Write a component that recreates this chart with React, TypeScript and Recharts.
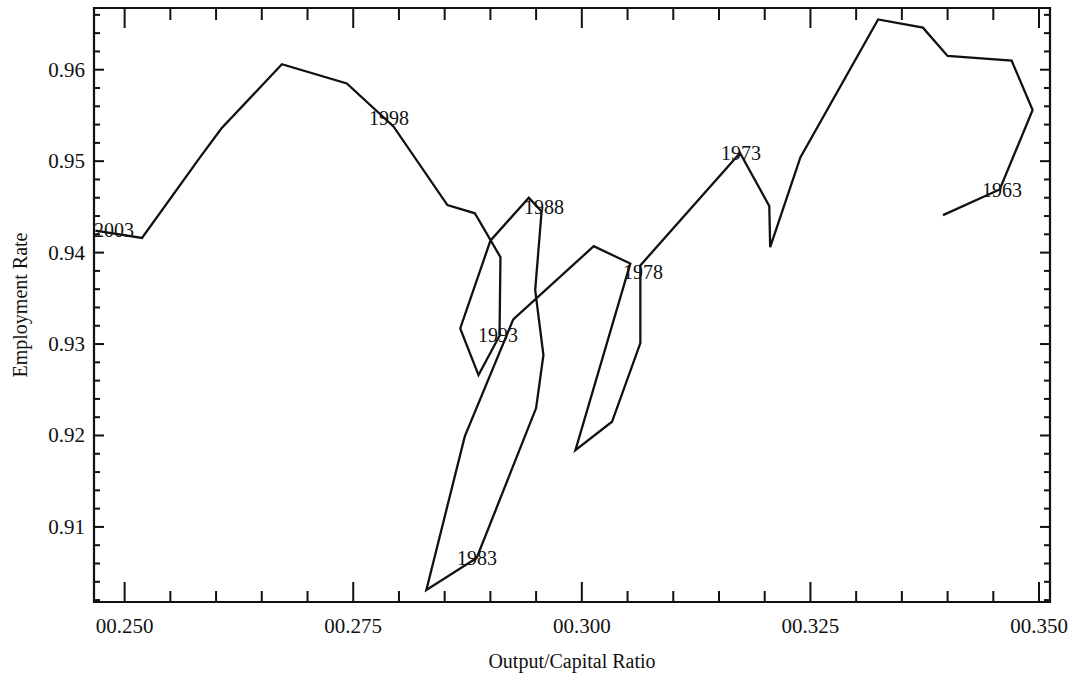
import { ReferenceArea, Scatter, ScatterChart, XAxis, YAxis } from "recharts";

// path (1962 -> 2004)
const ratio = [
  0.3395, 0.3457, 0.3493, 0.347, 0.34, 0.3373, 0.3324, 0.3239, 0.3206, 0.3205,
  0.3173, 0.3064, 0.3064, 0.3033, 0.2993, 0.3053, 0.3013, 0.2925, 0.2872, 0.283,
  0.2885, 0.295, 0.2958, 0.2949, 0.2956, 0.2942, 0.29, 0.2867, 0.2887, 0.291,
  0.2911, 0.2883, 0.2853, 0.2794, 0.2743, 0.2672, 0.2606, 0.2583, 0.2519, 0.2468,
];
const employment = [
  0.9441, 0.9469, 0.9556, 0.961, 0.9615, 0.9646, 0.9655, 0.9504, 0.9406, 0.9451,
  0.9509, 0.9386, 0.9301, 0.9215, 0.9184, 0.9388, 0.9407, 0.9327, 0.9199, 0.9031,
  0.9066, 0.923, 0.9288, 0.9359, 0.9445, 0.946, 0.9413, 0.9317, 0.9266, 0.9309,
  0.9395, 0.9443, 0.9452, 0.9538, 0.9585, 0.9606, 0.9536, 0.9505, 0.9416, 0.9424,
];

// year labels and where they sit
const labelYears = ["1963", "1973", "1978", "1983", "1988", "1993", "1998", "2003"];
const labelRatio = [0.34595, 0.31741, 0.30669, 0.28853, 0.29587, 0.29084, 0.27892, 0.24884];
const labelEmployment = [0.94687, 0.95092, 0.9379, 0.90661, 0.94501, 0.93101, 0.95475, 0.94249];

const xTicks = [
  0.25, 0.255, 0.26, 0.265, 0.27, 0.275, 0.28, 0.285, 0.29, 0.295, 0.3, 0.305,
  0.31, 0.315, 0.32, 0.325, 0.33, 0.335, 0.34, 0.345, 0.35,
];
const xMajor = [0.25, 0.275, 0.3, 0.325, 0.35];
const xMajorLabels = ["00.250", "00.275", "00.300", "00.325", "00.350"];

const yTicks = [
  0.902, 0.904, 0.906, 0.908, 0.91, 0.912, 0.914, 0.916, 0.918, 0.92, 0.922,
  0.924, 0.926, 0.928, 0.93, 0.932, 0.934, 0.936, 0.938, 0.94, 0.942, 0.944,
  0.946, 0.948, 0.95, 0.952, 0.954, 0.956, 0.958, 0.96, 0.962, 0.964, 0.966,
];
const yMajor = [0.91, 0.92, 0.93, 0.94, 0.95, 0.96];
const yMajorLabels = ["0.91", "0.92", "0.93", "0.94", "0.95", "0.96"];

const X_DOMAIN: [number, number] = [0.24665, 0.3512];
const Y_DOMAIN: [number, number] = [0.90179, 0.96675];

const W = 1075;
const H = 676;
const PLOT_LEFT = 94;
const PLOT_RIGHT = 1050;
const PLOT_TOP = 8;
const PLOT_BOTTOM = 602;
const INK = "#111";
const FONT = '"Liberation Serif", "DejaVu Serif", serif';

const majorIndex = (list: number[], v: number) =>
  list.findIndex((m) => Math.abs(m - v) < 1e-9);

function XTick({ x, payload }: any) {
  const i = majorIndex(xMajor, payload.value);
  const major = i >= 0;
  return (
    <g>
      <line x1={x} x2={x} y1={PLOT_BOTTOM} y2={PLOT_BOTTOM - (major ? 20 : 11)} stroke={INK} strokeWidth={2} />
      <line x1={x} x2={x} y1={PLOT_TOP} y2={PLOT_TOP + (major ? 20 : 12)} stroke={INK} strokeWidth={2} />
      {major && (
        <text x={x} y={PLOT_BOTTOM + 31} textAnchor="middle" fontFamily={FONT} fontSize={21} fill={INK}>
          {xMajorLabels[i]}
        </text>
      )}
    </g>
  );
}

function YTick({ y, payload }: any) {
  const i = majorIndex(yMajor, payload.value);
  const major = i >= 0;
  return (
    <g>
      <line x1={PLOT_LEFT} x2={PLOT_LEFT + (major ? 10 : 6)} y1={y} y2={y} stroke={INK} strokeWidth={2} />
      <line x1={PLOT_RIGHT} x2={PLOT_RIGHT - (major ? 10 : 6)} y1={y} y2={y} stroke={INK} strokeWidth={2} />
      {major && (
        <text x={PLOT_LEFT - 9} y={y + 7} textAnchor="end" fontFamily={FONT} fontSize={21} fill={INK}>
          {yMajorLabels[i]}
        </text>
      )}
    </g>
  );
}

const YearLabel = (p: any) => (
  <text x={p.cx} y={p.cy} dy="0.35em" textAnchor="middle" fontFamily={FONT} fontSize={20} fill={INK}>
    {p.payload.year}
  </text>
);

export default function App() {
  const path = ratio.map((r, i) => ({ ratio: r, employment: employment[i] }));
  const labels = labelYears.map((year, i) => ({
    ratio: labelRatio[i],
    employment: labelEmployment[i],
    year,
  }));

  return (
    <div style={{ position: "absolute", left: 0, top: 0, width: W, height: H, background: "#fff" }}>
      <ScatterChart
        width={W}
        height={H}
        margin={{ top: PLOT_TOP, right: W - PLOT_RIGHT, bottom: 0, left: 0 }}
      >
        <XAxis
          type="number"
          dataKey="ratio"
          domain={X_DOMAIN}
          allowDataOverflow
          ticks={xTicks}
          interval={0}
          tick={<XTick />}
          tickSize={0}
          tickMargin={0}
          tickLine={false}
          axisLine={false}
          height={H - PLOT_BOTTOM}
        />
        <YAxis
          type="number"
          dataKey="employment"
          domain={Y_DOMAIN}
          allowDataOverflow
          ticks={yTicks}
          interval={0}
          tick={<YTick />}
          tickSize={0}
          tickMargin={0}
          tickLine={false}
          axisLine={false}
          width={PLOT_LEFT}
        />
        <ReferenceArea
          x1={X_DOMAIN[0]}
          x2={X_DOMAIN[1]}
          y1={Y_DOMAIN[0]}
          y2={Y_DOMAIN[1]}
          fill="none"
          stroke={INK}
          strokeWidth={2.2}
          ifOverflow="extendDomain"
        />
        <Scatter
          data={path}
          line={{ stroke: INK, strokeWidth: 2.3 }}
          shape={() => <g />}
          isAnimationActive={false}
        />
        <Scatter data={labels} shape={YearLabel} isAnimationActive={false} />
      </ScatterChart>
      <svg width={W} height={H} style={{ position: "absolute", left: 0, top: 0, pointerEvents: "none" }}>
        <text
          transform={`translate(27, ${(PLOT_TOP + PLOT_BOTTOM) / 2}) rotate(-90)`}
          textAnchor="middle"
          fontFamily={FONT}
          fontSize={20}
          fill={INK}
        >
          Employment Rate
        </text>
        <text
          x={(PLOT_LEFT + PLOT_RIGHT) / 2}
          y={668}
          textAnchor="middle"
          fontFamily={FONT}
          fontSize={20}
          fill={INK}
        >
          Output/Capital Ratio
        </text>
      </svg>
    </div>
  );
}
